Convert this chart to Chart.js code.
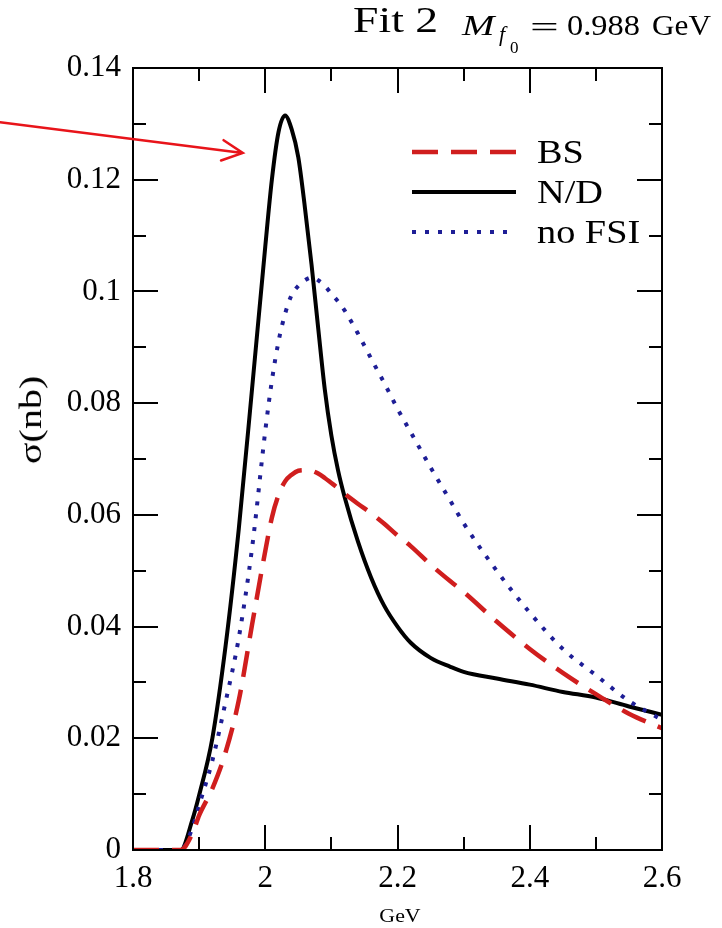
<!DOCTYPE html>
<html>
<head>
<meta charset="utf-8">
<script src="https://cdn.jsdelivr.net/npm/chart.js@4.4.1/dist/chart.umd.min.js"></script>
<style>
  html, body { margin: 0; padding: 0; background: #fff; }
  #wrap { position: relative; width: 722px; height: 928px; overflow: hidden; }
  #c { position: absolute; left: 0; top: 0; }
  .t { position: absolute; white-space: nowrap; line-height: 1; color: #000;
       font-family: 'Liberation Serif', 'Times New Roman', serif; }
</style>
</head>
<body>
<div id="wrap"><canvas id="c" width="722" height="928"></canvas></div>
<script>
// Centre-of-mass energy (GeV)
const energy = [1.80, 1.872, 1.89, 1.90, 1.92, 1.94, 1.96, 1.98, 2.00, 2.01, 2.02, 2.03, 2.04,
                2.05, 2.06, 2.07, 2.08, 2.09, 2.10, 2.11, 2.12, 2.14, 2.16, 2.18, 2.20, 2.22,
                2.25, 2.28, 2.30, 2.35, 2.40, 2.45, 2.50, 2.55, 2.60];

// Cross sections sigma (nb)
const sigmaBS = [0, 0, 0.0030, 0.0062, 0.0110, 0.0175, 0.0268, 0.0403, 0.0535, 0.0595, 0.0635,
                 0.0660, 0.0672, 0.0679, 0.0680, 0.0679, 0.0674, 0.0666, 0.0657, 0.0648, 0.0638,
                 0.0620, 0.0603, 0.0584, 0.0563, 0.0544, 0.0511, 0.0481, 0.0462, 0.0409, 0.0360,
                 0.0317, 0.0279, 0.0244, 0.0218];

const sigmaND = [0, 0, 0.0055, 0.0098, 0.0200, 0.0365, 0.0575, 0.0825, 0.1080, 0.1200, 0.1285,
                 0.1315, 0.1290, 0.1240, 0.1150, 0.1048, 0.0935, 0.0825, 0.0742, 0.0680, 0.0632,
                 0.0553, 0.0488, 0.0437, 0.0400, 0.0371, 0.0344, 0.0328, 0.0319, 0.0307, 0.0296,
                 0.0283, 0.0273, 0.0257, 0.0242];

const sigmaNoFSI = [0, 0, 0.0040, 0.0080, 0.0160, 0.0265, 0.0380, 0.0540, 0.0750, 0.0840, 0.0910,
                    0.0960, 0.0994, 0.1010, 0.1020, 0.1025, 0.1020, 0.1010, 0.0996, 0.0982, 0.0966,
                    0.0925, 0.0880, 0.0836, 0.0790, 0.0748, 0.0685, 0.0625, 0.0585, 0.0500, 0.0425,
                    0.0360, 0.0313, 0.0267, 0.0233];

// Axis ticks
const xMajorTicks = [1.8, 2.0, 2.2, 2.4, 2.6];
const xMinorTicks = [1.9, 2.1, 2.3, 2.5];
const yMajorTicks = [0, 0.02, 0.04, 0.06, 0.08, 0.10, 0.12, 0.14];
const yMinorTicks = [0.01, 0.03, 0.05, 0.07, 0.09, 0.11, 0.13];

// Arrow pointing at the N/D peak, in data units
const arrowTail = [1.599, 0.1303];
const arrowHead = [1.966, 0.1248];

const SERIF = "'Liberation Serif', 'Times New Roman', serif";
Chart.defaults.font.family = SERIF;
Chart.defaults.color = '#000';

const toPoints = ys => energy.map((e, i) => ({ x: e, y: ys[i] }));

// Box frame with inward ticks on all four sides
const framePlugin = {
  id: 'frame',
  afterDatasetsDraw(chart) {
    const { ctx, chartArea: a, scales: { x, y } } = chart;
    ctx.save();
    ctx.strokeStyle = '#000';
    ctx.lineWidth = 2;
    ctx.beginPath();
    const xt = (vals, len) => vals.forEach(v => {
      const p = Math.round(x.getPixelForValue(v));
      ctx.moveTo(p, a.bottom); ctx.lineTo(p, a.bottom - len);
      ctx.moveTo(p, a.top); ctx.lineTo(p, a.top + len);
    });
    const yt = (vals, len) => vals.forEach(v => {
      const p = Math.round(y.getPixelForValue(v));
      ctx.moveTo(a.left, p); ctx.lineTo(a.left + len, p);
      ctx.moveTo(a.right, p); ctx.lineTo(a.right - len, p);
    });
    xt(xMajorTicks, 25); xt(xMinorTicks, 13);
    yt(yMajorTicks, 25); yt(yMinorTicks, 13);
    ctx.stroke();
    ctx.strokeRect(a.left, a.top, a.right - a.left, a.bottom - a.top);
    ctx.restore();
  }
};

// Legend drawn inside the plot
const legendPlugin = {
  id: 'boxLegend',
  afterDraw(chart) {
    const { ctx } = chart;
    const x0 = 412, x1 = 516, textX = 537, rows = [152, 192, 232];
    ctx.save();
    chart.data.datasets.forEach((ds, i) => {
      const yy = rows[i];
      ctx.beginPath();
      ctx.strokeStyle = ds.borderColor;
      ctx.lineWidth = ds.borderWidth;
      ctx.lineCap = 'butt';
      ctx.setLineDash(ds.borderDash || []);
      ctx.moveTo(x0, yy); ctx.lineTo(x1, yy);
      ctx.stroke();
      ctx.setLineDash([]);
      ctx.save();
      ctx.translate(textX, yy + 11);
      ctx.scale(1.16, 1);
      ctx.fillStyle = '#000';
      ctx.font = '33px ' + SERIF;
      ctx.textBaseline = 'alphabetic';
      ctx.fillText(ds.label, 0, 0);
      ctx.restore();
    });
    ctx.restore();
  }
};

// Red annotation arrow
const arrowPlugin = {
  id: 'arrow',
  afterDraw(chart) {
    const { ctx, scales: { x, y } } = chart;
    const x0 = x.getPixelForValue(arrowTail[0]), y0 = y.getPixelForValue(arrowTail[1]);
    const x1 = x.getPixelForValue(arrowHead[0]), y1 = y.getPixelForValue(arrowHead[1]);
    const ang = Math.atan2(y1 - y0, x1 - x0), len = 23, spread = 0.46;
    ctx.save();
    ctx.strokeStyle = '#e8141a';
    ctx.lineWidth = 2.5;
    ctx.lineCap = 'round';
    ctx.beginPath();
    ctx.moveTo(x0, y0); ctx.lineTo(x1, y1);
    ctx.moveTo(x1 - len * Math.cos(ang - spread), y1 - len * Math.sin(ang - spread));
    ctx.lineTo(x1, y1);
    ctx.lineTo(x1 - len * Math.cos(ang + spread), y1 - len * Math.sin(ang + spread));
    ctx.stroke();
    ctx.restore();
  }
};

const tickFont = { family: SERIF, size: 31, style: 'normal', weight: 'normal' };

new Chart(document.getElementById('c'), {
  type: 'line',
  data: {
    datasets: [
      { label: 'BS', data: toPoints(sigmaBS), borderColor: '#d01e1e', borderWidth: 4.5,
        borderDash: [26, 13], order: 0 },
      { label: 'N/D', data: toPoints(sigmaND), borderColor: '#000000', borderWidth: 4, order: 2 },
      { label: 'no FSI', data: toPoints(sigmaNoFSI), borderColor: '#1e1e96', borderWidth: 4,
        borderDash: [4, 9], order: 1 }
    ]
  },
  options: {
    responsive: false,
    animation: false,
    devicePixelRatio: 1,
    layout: { padding: { top: 68, right: 60, left: 0, bottom: 0 } },
    elements: {
      point: { radius: 0, hoverRadius: 0 },
      line: { cubicInterpolationMode: 'monotone', fill: false, borderCapStyle: 'butt' }
    },
    plugins: { legend: { display: false }, tooltip: { enabled: false } },
    scales: {
      x: {
        type: 'linear', min: 1.8, max: 2.6,
        afterBuildTicks: s => { s.ticks = xMajorTicks.map(v => ({ value: v })); },
        afterFit: s => { s.height = 78; s.paddingLeft = 0; s.paddingRight = 0; },
        grid: { display: false, drawTicks: false },
        border: { display: false },
        ticks: { padding: 10, color: '#000', autoSkip: false, maxRotation: 0,
                 font: tickFont,
                 callback: v => String(+v.toFixed(1)) }
      },
      y: {
        type: 'linear', min: 0, max: 0.14,
        afterBuildTicks: s => { s.ticks = yMajorTicks.map(v => ({ value: v })); },
        afterFit: s => { s.width = 133; s.paddingTop = 0; s.paddingBottom = 0; },
        grid: { display: false, drawTicks: false },
        border: { display: false },
        ticks: { padding: 12, color: '#000', autoSkip: false,
                 font: tickFont,
                 callback: v => String(+v.toFixed(2)) }
      }
    }
  },
  plugins: [framePlugin, legendPlugin, arrowPlugin]
});

// Heading and axis titles as text
const wrap = document.getElementById('wrap');
function addText(spec) {
  const el = document.createElement('div');
  el.className = 't';
  el.textContent = spec.text;
  el.style.fontSize = spec.size + 'px';
  if (spec.italic) el.style.fontStyle = 'italic';
  if (spec.base !== undefined) {
    el.style.left = spec.x + 'px';
    el.style.top = (spec.base - 0.8375 * spec.size) + 'px';
    el.style.transformOrigin = '0 0';
    el.style.transform = 'scaleX(' + (spec.sx || 1) + ')';
  } else {
    el.style.left = spec.cx + 'px';
    el.style.top = spec.cy + 'px';
    el.style.transformOrigin = '50% 50%';
    el.style.transform = 'translate(-50%, -50%) rotate(' + (spec.rot || 0) + 'deg) scaleX(' + (spec.sx || 1) + ')';
  }
  wrap.appendChild(el);
}
[
  { text: 'Fit 2', x: 353, base: 32, size: 36, sx: 1.27 },
  { text: 'M', x: 462, base: 35, size: 30, sx: 1.3, italic: true },
  { text: 'f', x: 499, base: 41, size: 22, italic: true },
  { text: '0', x: 510, base: 53, size: 17 },
  { text: '=', x: 530, base: 37, size: 30, sx: 1.7 },
  { text: '0.988', x: 567, base: 35, size: 30, sx: 1.08 },
  { text: 'GeV', x: 652, base: 35, size: 30, sx: 1.04 },
  { text: 'GeV', cx: 400, cy: 915, size: 19, sx: 1.15 },
  { text: 'σ(nb)', cx: 30, cy: 420, size: 32, rot: -90, sx: 1.25 }
].forEach(addText);
</script>
</body>
</html>
